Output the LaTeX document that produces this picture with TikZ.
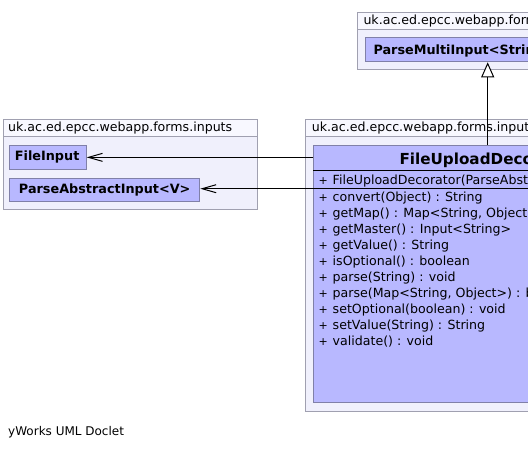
\documentclass[tikz,border=0pt]{standalone}
\usepackage{fontspec}
\setmainfont{DejaVu Sans}
\usetikzlibrary{arrows.meta}
\definecolor{pkgborder}{RGB}{160,160,176}
\definecolor{pkgfill}{RGB}{240,240,252}
\definecolor{pkghead}{RGB}{248,248,255}
\definecolor{clsborder}{RGB}{128,128,168}
\definecolor{clsfill}{RGB}{184,184,255}
\newcommand{\lblfont}{\fontsize{12.6}{14}\selectfont}
\newcommand{\boldfont}{\fontsize{12.8}{14}\selectfont\bfseries}
\newcommand{\titlefont}{\fontsize{15.2}{18}\selectfont\bfseries}
\tikzset{
  pkg/.style={draw=pkgborder, fill=pkgfill, line width=1pt, anchor=north west, inner sep=0pt},
  pkghd/.style={draw=pkgborder, fill=pkghead, line width=1pt, anchor=north west, inner sep=0pt},
  cls/.style={draw=clsborder, fill=clsfill, line width=1pt, anchor=north west, inner sep=0pt},
  txt/.style={anchor=base west, inner sep=0pt, font=\lblfont},
  btxt/.style={anchor=base west, inner sep=0pt, font=\boldfont},
  sep/.style={draw=black, line width=1pt},
  plus/.style={anchor=base west, inner sep=0pt, font=\fontsize{11}{13}\selectfont},
  dep/.style={line width=1pt, -{Straight Barb[length=14pt,width=8pt,line width=1pt]}},
  gen/.style={line width=1pt, -{Triangle[open,fill=white,length=15pt,width=13pt,line width=1pt]}}
}
\begin{document}
\begin{tikzpicture}[x=1pt,y=-1pt]
\useasboundingbox (0,0) rectangle (528,448);
\fill[white] (0,0) rectangle (528,448);
\clip (0,0) rectangle (528,448);

% top package
\node[pkg, minimum width=400pt, minimum height=57.3pt] (tpkg) at (357.3,11.7) {};
\node[pkghd, minimum width=400pt, minimum height=17.6pt] (tpkgh) at (357.3,11.7) {};
\node[txt] (tpkgl) at (363.3,24) {uk.ac.ed.epcc.webapp.forms};
\node[cls, minimum width=380pt, minimum height=24pt] (pmi) at (365.3,37.3) {};
\node[btxt] (pmil) at (373.3,54.2) {ParseMultiInput<String>};

% left package
\node[pkg, minimum width=254pt, minimum height=89.7pt] (lpkg) at (2.7,119.3) {};
\node[pkghd, minimum width=254pt, minimum height=16.7pt] (lpkgh) at (2.7,119.3) {};
\node[txt] (lpkgl) at (8,131) {uk.ac.ed.epcc.webapp.forms.inputs};
\node[cls, minimum width=76.7pt, minimum height=23.7pt] (fi) at (9,145) {};
\node[btxt] (fil) at (14.7,160.6) {FileInput};
\node[cls, minimum width=190.3pt, minimum height=22.7pt] (pai) at (9,178.3) {};
\node[btxt] (pail) at (18.8,193) {ParseAbstractInput<V>};

% right package
\node[pkg, minimum width=400pt, minimum height=291.4pt] (rpkg) at (305.3,119.3) {};
\node[pkghd, minimum width=400pt, minimum height=16.7pt] (rpkgh) at (305.3,119.3) {};
\node[txt] (rpkgl) at (311.7,131) {uk.ac.ed.epcc.webapp.forms.inputs};
\node[cls, minimum width=358pt, minimum height=257.3pt] (cls) at (313.3,145) {};
\draw[sep] (313.3,170.7) -- (671.3,170.7);
\draw[sep] (313.3,188.7) -- (671.3,188.7);
\node[anchor=base west, inner sep=0pt, font=\titlefont] (title) at (399.3,164.3) {FileUploadDecorator};

\node[plus] (p0) at (318.5,184.8) {+};
\node[txt] (m0) at (332.5,184.8) {FileUploadDecorator(ParseAbstractInput<String>)};
\foreach \t [count=\i from 1] in {
  {convert(Object) : String},
  {getMap() : Map<String, Object>},
  {getMaster() : Input<String>},
  {getValue() : String},
  {isOptional() : boolean},
  {parse(String) : void},
  {parse(Map<String, Object>) : boolean},
  {setOptional(boolean) : void},
  {setValue(String) : String},
  {validate() : void}}{
  \node[plus] (p\i) at (318.5,201.5+16*\i-16) {+};
  \node[txt] (m\i) at (332.5,201.5+16*\i-16) {\t};
}

% connectors
\draw[dep] (fi.east -| cls.west) -- (fi.east);
\draw[dep] (313.3,188.7) coordinate (dsrc) -- (dsrc -| pai.east);
\coordinate (gx) at (487.7,0);
\draw[gen] (gx |- cls.north) -- (gx |- pmi.south);

\node[anchor=base west, inner sep=0pt, font=\fontsize{12}{14}\selectfont] (footer) at (8,435) {yWorks UML Doclet};
\end{tikzpicture}
\end{document}
